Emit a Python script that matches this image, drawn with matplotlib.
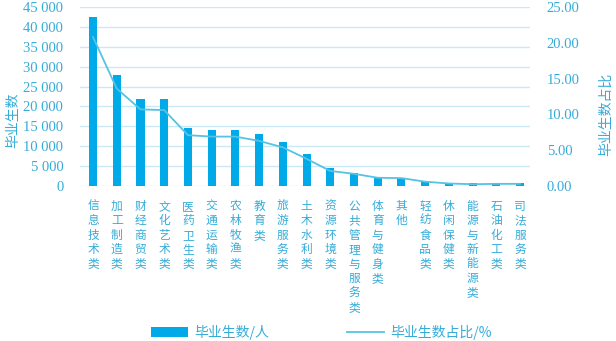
import matplotlib
matplotlib.use('Agg')
import matplotlib.pyplot as plt
from matplotlib.ticker import FuncFormatter

plt.rcParams['font.family'] = ['Noto Sans CJK SC', 'DejaVu Sans']

# 各专业类毕业生人数与占比
majors = ['信息技术类', '加工制造类', '财经商贸类', '文化艺术类', '医药卫生类',
          '交通运输类', '农林牧渔类', '教育类', '旅游服务类', '土木水利类',
          '资源环境类', '公共管理与服务类', '体育与健身类', '其他', '轻纺食品类',
          '休闲保健类', '能源与新能源类', '石油化工类', '司法服务类']
graduates = [42500, 28000, 21800, 21800, 14500, 14200, 14200, 13100, 11000, 8000,
             4400, 3350, 2100, 2000, 1100, 700, 750, 650, 650]
share_pct = [20.8, 13.6, 10.7, 10.6, 7.1, 6.9, 6.9, 6.3, 5.4, 3.8,
             2.1, 1.7, 1.15, 1.1, 0.6, 0.35, 0.25, 0.3, 0.3]

bar_color = '#00aae9'
line_color = '#55c3e3'
text_color = '#35acd8'
grid_color = '#c8e9f5'
num_font = 'Liberation Serif'

fig = plt.figure(figsize=(6.16, 3.41), dpi=100)
ax = fig.add_axes([80/616, 1-186/341, 450/616, 179/341])
ax2 = ax.twinx()

x = list(range(len(majors)))
bars = ax.bar(x, graduates, width=0.34, color=bar_color, zorder=2, label='毕业生数/人')
line, = ax2.plot(x, share_pct, color=line_color, lw=1.3, label='毕业生数占比/%')

ax.set_xlim(-0.55, len(majors) - 1 + 0.42)
ax.set_ylim(0, 45000)
ax.set_yticks(range(0, 45001, 5000))
ax.yaxis.set_major_formatter(FuncFormatter(lambda v, p: f'{int(v):,}'.replace(',', ' ')))
ax2.set_ylim(0, 25)
ax2.set_yticks([0, 5, 10, 15, 20, 25])
ax2.yaxis.set_major_formatter(FuncFormatter(lambda v, p: f'{v:.2f}'))

ax.grid(axis='y', color=grid_color, lw=1, zorder=0)
ax.set_axisbelow(True)
for a in (ax, ax2):
    for s in a.spines.values():
        s.set_visible(False)
    a.tick_params(length=0, colors=text_color)
ax.tick_params(axis='y', pad=12)
ax2.tick_params(axis='y', pad=12)
for lab in ax.get_yticklabels() + ax2.get_yticklabels():
    lab.set_fontfamily(num_font)
    lab.set_fontsize(10.5)

# 竖排的横轴标签
ax.set_xticks(x)
ax.set_xticklabels(['\n'.join(m) for m in majors], fontsize=8.5, linespacing=1.14,
                   va='top', color=text_color)
ax.tick_params(axis='x', pad=10)

fig.text(13/616, 1-120/341, '毕业生数', rotation=90, ha='center', va='center',
         fontsize=10, color=text_color)
fig.text(606/616, 1-114/341, '毕业生数占比', rotation=90, ha='center', va='center',
         fontsize=10, color=text_color)

fig.legend([bars, line], ['毕业生数/人', '毕业生数占比/%'], loc='center',
           bbox_to_anchor=(0.522, 1-332/341), ncol=2, frameon=False,
           fontsize=10, labelcolor=text_color, handlelength=2.66,
           handleheight=0.72, handletextpad=0.45, columnspacing=5.6)

fig.savefig('out.png', dpi=100)
